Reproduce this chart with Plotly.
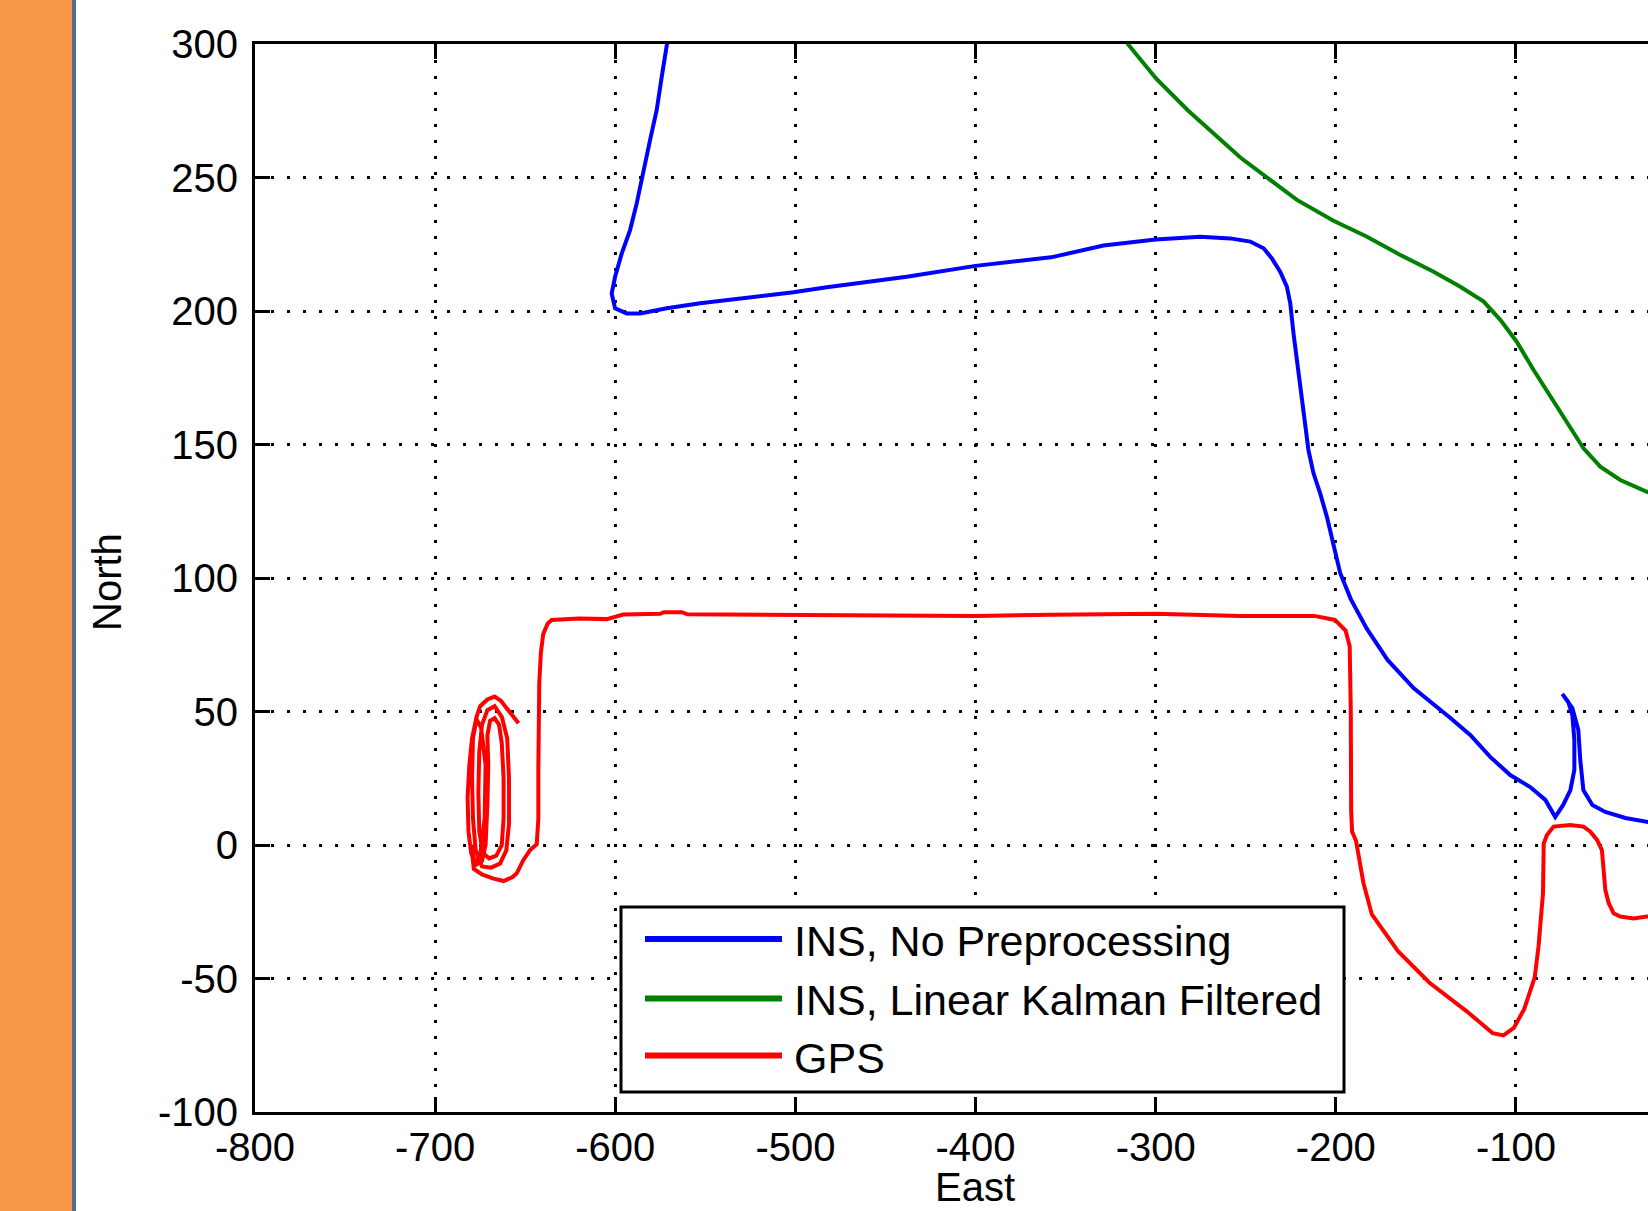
import plotly.graph_objects as go

# ---------------- data ----------------
series_names = ["INS, No Preprocessing", "INS, Linear Kalman Filtered", "GPS"]
series_colors = ["#0000FF", "#008000", "#FF0000"]

ins_raw_east = [-569.5, -571.4, -574.2, -577.0, -580.7, -584.4, -588.1, -591.8, -596.4, -600.1,
                -602.0, -600.1, -593.6, -586.2, -571.4, -552.9, -519.6, -501.1, -482.6, -464.1,
                -438.2, -400.0, -358.1, -329.0, -300.0, -275.3, -258.6, -247.5, -240.1, -235.5,
                -230.9, -227.2, -225.3, -223.5, -221.2, -218.8, -217.0, -215.2, -212.4, -208.7,
                -205.0, -201.3, -197.6, -191.7, -182.9, -171.3, -156.7, -136.4, -125.4, -114.3,
                -103.2, -92.1, -83.7, -78.2, -73.8, -69.8, -67.6, -67.6, -68.7, -71.0,
                -74.3, -68.7, -65.4, -64.3, -62.6, -57.6, -50.4, -39.3, -26.5, -15.0]
ins_raw_north = [305.0, 299.6, 287.8, 275.3, 264.0, 251.6, 240.3, 230.3, 221.6, 212.8,
                 206.6, 201.0, 199.1, 199.1, 201.0, 202.9, 205.6, 207.0, 208.9, 210.4,
                 212.8, 216.9, 220.1, 224.5, 226.8, 227.8, 227.2, 226.0, 223.5, 219.7,
                 214.7, 209.1, 202.9, 191.6, 179.1, 166.7, 156.7, 147.9, 139.2, 131.7,
                 123.0, 113.0, 101.9, 92.1, 81.1, 69.3, 58.7, 47.6, 41.2, 33.0,
                 26.2, 21.7, 16.9, 10.5, 15.0, 20.6, 28.1, 39.3, 48.7, 53.6,
                 56.6, 51.3, 43.1, 31.8, 20.6, 15.0, 12.4, 10.1, 8.6, 8.3]

ins_kf_east = [-320.0, -315.5, -299.7, -282.2, -253.0, -229.7, -221.6, -201.3, -182.7, -164.2,
               -145.7, -130.9, -117.9, -108.6, -99.6, -90.2, -80.9, -71.7, -62.5, -53.2,
               -42.1, -27.3, -15.0]
ins_kf_north = [306.0, 300.0, 287.0, 275.2, 257.5, 245.7, 241.6, 233.8, 227.8, 221.0,
                214.7, 209.1, 203.5, 196.6, 188.5, 177.9, 167.9, 157.9, 148.6, 141.7,
                136.7, 132.3, 130.0]

gps_east = [-653.7, -657.0, -660.2, -663.5, -667.0, -671.0, -675.0, -677.0, -679.5, -681.0,
            -682.0, -681.5, -680.0, -677.5, -674.0, -672.0, -671.0, -670.5, -671.0, -669.5,
            -667.0, -664.5, -663.0, -662.0, -662.0, -663.0, -666.0, -670.0, -673.5, -675.5,
            -676.0, -675.5, -674.0, -671.0, -667.0, -663.0, -660.0, -659.0, -659.0, -660.5,
            -664.0, -669.0, -674.0, -677.5, -679.0, -679.5, -679.0, -677.0, -674.5, -672.0,
            -672.5, -675.0, -678.0, -680.0,
            -678.5, -674.0, -668.0, -662.0, -657.0,
            -654.7, -651.0, -647.3, -643.6, -642.7, -642.7, -642.5, -642.2, -641.3, -640.0,
            -637.5, -635.3, -620.0, -604.7, -595.6, -575.0, -573.0, -563.0, -560.0, -508.5,
            -445.7, -400.0, -358.0, -299.7, -253.0, -212.0, -200.5, -194.6, -192.3, -191.7,
            -191.5, -191.0, -188.8, -184.7, -180.0, -165.5, -148.0, -127.5, -112.9, -107.0,
            -101.2, -95.4, -89.6, -87.5, -85.0, -84.6, -82.8, -79.1, -69.9, -62.5,
            -58.7, -55.0, -52.3, -51.4, -50.4, -48.5, -45.8, -42.1, -34.7, -27.3, -15.0]
gps_north = [45.6, 48.5, 51.2, 54.0, 55.6, 54.5, 52.0, 48.0, 40.0, 30.0,
             18.0, 5.0, -3.0, -7.5, -6.0, 0.0, 15.0, 30.0, 41.0, 46.5,
             47.5, 45.0, 38.0, 25.0, 10.0, 0.0, -4.0, -5.0, -3.0, 5.0,
             20.0, 35.0, 45.0, 50.5, 52.0, 48.0, 40.0, 25.0, 8.0, -2.0,
             -7.0, -8.5, -8.0, -2.0, 10.0, 25.0, 40.0, 47.0, 44.0, 30.0,
             10.0, -4.0, -7.0, 0.0,
             -9.0, -11.0, -12.5, -13.5, -12.0,
             -10.6, -5.6, -1.9, 0.3, 10.0, 29.3, 45.0, 60.6, 72.0, 79.0,
             83.0, 84.3, 84.8, 84.6, 86.3, 86.6, 87.2, 87.2, 86.4, 86.2,
             85.8, 85.8, 86.2, 86.6, 85.8, 85.8, 84.3, 80.3, 74.4, 50.0,
             13.4, 5.0, 1.6, -14.2, -26.0, -39.8, -51.6, -62.2, -70.5, -71.3,
             -68.5, -61.4, -49.6, -38.1, -18.0, 0.6, 3.7, 6.9, 7.5, 6.9,
             5.0, 1.9, -1.9, -8.1, -16.9, -21.8, -25.6, -26.8, -27.5, -26.8, -27.0]

x_tick_values = [-800, -700, -600, -500, -400, -300, -200, -100, 0]
x_tick_labels = ["-800", "-700", "-600", "-500", "-400", "-300", "-200", "-100", "0"]
y_tick_values = [-100, -50, 0, 50, 100, 150, 200, 250, 300]
y_tick_labels = ["-100", "-50", "0", "50", "100", "150", "200", "250", "300"]
x_title = "East"
y_title = "North"

# ---------------- figure ----------------
FONT = "Liberation Sans, Arial, sans-serif"
W, H = 1648, 1211
ML, MR, MT, MB = 255, 0, 44, 99
PW, PH = W - ML - MR, H - MT - MB


def px_x(p):
    return (p - ML) / PW


def px_y(p):
    return (H - MB - p) / PH


fig = go.Figure()
xs = [ins_raw_east, ins_kf_east, gps_east]
ys = [ins_raw_north, ins_kf_north, gps_north]
for name, col, x, y in zip(series_names, series_colors, xs, ys):
    fig.add_trace(go.Scatter(x=x, y=y, mode="lines", name=name,
                             line=dict(color=col, width=4), showlegend=False))

axis_common = dict(
    showline=True, linecolor="black", linewidth=3,
    ticks="inside", ticklen=15, tickwidth=3, tickcolor="black",
    showgrid=True, gridcolor="black", gridwidth=3, griddash="3px,13px",
    zeroline=False, tickfont=dict(family=FONT, size=40, color="black"),
)

fig.update_xaxes(range=[-800, -800 + PW / 1.8014], tickvals=x_tick_values,
                 ticktext=x_tick_labels, mirror="ticks", ticklabelstandoff=-2, **axis_common)
fig.update_yaxes(range=[-100, 300], tickvals=y_tick_values,
                 ticktext=y_tick_labels, mirror=False, ticklabelstandoff=6, **axis_common)

shapes = [
    # orange side band and its border
    dict(type="rect", xref="paper", yref="paper", x0=px_x(0), x1=px_x(72),
         y0=px_y(H + 5), y1=px_y(-5), fillcolor="#F79646", line=dict(width=0), layer="above"),
    dict(type="rect", xref="paper", yref="paper", x0=px_x(72), x1=px_x(76),
         y0=px_y(H + 5), y1=px_y(-5), fillcolor="#4C6D9B", line=dict(width=0), layer="above"),
    # legend box
    dict(type="rect", xref="paper", yref="paper", x0=px_x(621), x1=px_x(1344),
         y0=px_y(1092), y1=px_y(907), fillcolor="white",
         line=dict(color="black", width=3), layer="above"),
]
annotations = []
legend_rows = [939, 998.5, 1055.5]
for name, col, ry in zip(series_names, series_colors, legend_rows):
    shapes.append(dict(type="line", xref="paper", yref="paper", x0=px_x(645), x1=px_x(782),
                       y0=px_y(ry), y1=px_y(ry), line=dict(color=col, width=6), layer="above"))
    annotations.append(dict(xref="paper", yref="paper", x=px_x(792), y=px_y(ry + 2),
                            xanchor="left", yanchor="middle", text=name, showarrow=False,
                            font=dict(family=FONT, size=43, color="black")))

annotations.append(dict(xref="paper", yref="paper", x=px_x(107), y=px_y(582),
                        text=y_title, textangle=-90, showarrow=False,
                        xanchor="center", yanchor="middle",
                        font=dict(family=FONT, size=40, color="black")))
annotations.append(dict(xref="paper", yref="paper", x=px_x(975), y=px_y(1210),
                        text=x_title, showarrow=False, xanchor="center", yanchor="bottom",
                        borderpad=0, font=dict(family=FONT, size=40, color="black")))

fig.update_layout(
    width=W, height=H,
    margin=dict(l=ML, r=MR, t=MT, b=MB, pad=0),
    paper_bgcolor="white", plot_bgcolor="white",
    showlegend=False, shapes=shapes, annotations=annotations,
    font=dict(family=FONT, color="black"),
)

fig.write_html("out.html")
